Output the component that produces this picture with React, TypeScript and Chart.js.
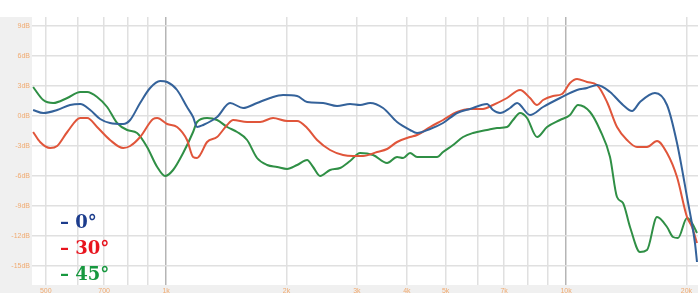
import React, { useEffect, useRef } from "react";
import { Chart, registerables } from "chart.js";

Chart.register(...registerables);

// Frequencies (Hz) and levels (dB)
const freq0 = [465, 493, 534, 575, 610, 646, 684, 724, 781, 813, 861, 912, 966, 1006, 1065, 1128, 1168, 1195, 1237, 1341, 1445, 1558, 1688, 1820, 1961, 2126, 2252, 2469, 2676, 2884, 3055, 3236, 3487, 3780, 4074, 4241, 4571, 4926, 5340, 5754, 6345, 6568, 6839, 7244, 7542, 8128, 8760, 9661, 10654, 11285, 11954, 12882, 13883, 14622, 15311, 16691, 17886, 18945, 20068, 21010, 21257];
const db0 = [0.6, 0.3, 0.6, 1.1, 1.2, 0.6, -0.3, -0.7, -0.8, -0.4, 1.3, 2.8, 3.5, 3.4, 2.6, 0.9, -0.1, -1.1, -0.9, -0.1, 1.3, 0.8, 1.3, 1.8, 2.1, 2.0, 1.4, 1.3, 1.0, 1.2, 1.1, 1.3, 0.8, -0.6, -1.4, -1.7, -1.3, -0.7, 0.3, 0.7, 1.2, 0.6, 0.3, 0.8, 1.3, 0.1, 0.9, 1.8, 2.6, 2.8, 3.1, 2.4, 1.1, 0.5, 1.4, 2.3, 1.1, -2.7, -8.1, -12.7, -14.6];

const freq30 = [465, 484, 513, 534, 566, 610, 635, 672, 724, 781, 813, 861, 928, 950, 1006, 1065, 1128, 1168, 1195, 1216, 1266, 1341, 1421, 1471, 1594, 1718, 1851, 2007, 2126, 2252, 2385, 2570, 2770, 2934, 3108, 3369, 3569, 3780, 4074, 4241, 4571, 4926, 5340, 5754, 6200, 6568, 7120, 7674, 8128, 8462, 8760, 9279, 9772, 10233, 10654, 11285, 11954, 12662, 13411, 14207, 15048, 15940, 16885, 17886, 18945, 20068, 20654, 21257];
const db30 = [-1.6, -2.6, -3.2, -3.0, -1.6, -0.2, -0.2, -1.1, -2.4, -3.2, -3.0, -2.1, -0.3, -0.2, -0.8, -1.1, -2.4, -4.1, -4.2, -3.9, -2.6, -2.1, -0.9, -0.4, -0.6, -0.6, -0.2, -0.5, -0.5, -1.2, -2.4, -3.4, -3.9, -4.0, -4.0, -3.6, -3.3, -2.6, -2.1, -1.9, -1.1, -0.4, 0.4, 0.7, 0.7, 1.1, 1.8, 2.6, 1.8, 1.1, 1.6, 2.0, 2.2, 3.3, 3.7, 3.4, 3.1, 1.4, -1.1, -2.4, -3.1, -3.1, -2.5, -3.7, -6.1, -10.1, -11.1, -12.7];

const freq45 = [465, 493, 522, 566, 610, 635, 672, 712, 754, 799, 846, 896, 950, 994, 1041, 1103, 1168, 1195, 1266, 1341, 1421, 1505, 1594, 1688, 1789, 1895, 2007, 2126, 2252, 2331, 2427, 2570, 2723, 2884, 3055, 3292, 3569, 3780, 3913, 4074, 4241, 4759, 4926, 5218, 5527, 5855, 6345, 6722, 7120, 7371, 7674, 7989, 8462, 8964, 9661, 10233, 10715, 11482, 12162, 12882, 13411, 13883, 14454, 15311, 15940, 16885, 17886, 18513, 19055, 20068, 20654, 21257];
const db45 = [2.9, 1.6, 1.3, 1.8, 2.4, 2.4, 1.9, 0.9, -0.7, -1.4, -1.7, -3.1, -5.1, -6.0, -5.4, -3.7, -1.6, -0.6, -0.2, -0.4, -1.1, -1.6, -2.4, -4.2, -4.9, -5.1, -5.3, -4.9, -4.4, -5.1, -6.0, -5.4, -5.2, -4.5, -3.7, -3.9, -4.7, -4.1, -4.2, -3.7, -4.1, -4.1, -3.6, -2.9, -2.1, -1.7, -1.4, -1.2, -1.1, -0.4, 0.3, -0.2, -2.1, -1.1, -0.4, 0.1, 1.1, 0.4, -1.4, -4.1, -8.1, -8.7, -11.1, -13.6, -13.4, -10.1, -11.1, -12.1, -12.2, -10.2, -10.7, -11.7];

const gridFreqs = [500, 600, 700, 800, 900, 1000, 2000, 3000, 4000, 5000, 6000, 7000, 8000, 9000, 10000, 20000];
const freqLabels: Record<number, string> = { 500: "500", 700: "700", 1000: "1k", 2000: "2k", 3000: "3k", 4000: "4k", 5000: "5k", 7000: "7k", 10000: "10k", 20000: "20k" };
const dbTicks = [-15, -12, -9, -6, -3, 0, 3, 6, 9];

const seriesNames = ["0°", "30°", "45°"];
const lineColors = ["#34629a", "#e0553a", "#2f8f45"];
const legendColors = ["#1c3c8c", "#e8141e", "#17983f"];

const pts = (f: number[], d: number[]) => f.map((x, i) => ({ x, y: d[i] }));

export default function App() {
  const ref = useRef<HTMLCanvasElement>(null);
  useEffect(() => {
    const canvas = ref.current!;
    const bgPlugin = {
      id: "bg",
      beforeDraw(chart: any) {
        const { ctx, chartArea, width, height } = chart;
        ctx.save();
        ctx.fillStyle = "#ffffff";
        ctx.fillRect(0, 0, width, height);
        ctx.fillStyle = "#f0f0f0";
        ctx.fillRect(0, chartArea.top, chartArea.left, height - chartArea.top);
        ctx.fillRect(0, chartArea.bottom, width, height - chartArea.bottom);
        ctx.restore();
      },
    };
    const legendPlugin = {
      id: "legendText",
      afterDraw(chart: any) {
        const ctx = chart.ctx;
        ctx.save();
        ctx.font = "bold 18px 'DejaVu Serif'";
        ctx.textBaseline = "alphabetic";
        ctx.textAlign = "left";
        seriesNames.forEach((n, i) => {
          ctx.fillStyle = legendColors[i];
          ctx.fillText("– " + n, 60, 228 + i * 26);
        });
        ctx.restore();
      },
    };
    const datasets = [
      [freq0, db0],
      [freq30, db30],
      [freq45, db45],
    ].map(([f, d], i) => ({
      label: seriesNames[i],
      data: pts(f, d),
      borderColor: lineColors[i],
      backgroundColor: lineColors[i],
      borderWidth: 2,
      pointRadius: 0,
      tension: 0.4,
      cubicInterpolationMode: "monotone" as const,
    }));
    const chart = new Chart(canvas, {
      type: "line",
      data: { datasets },
      plugins: [bgPlugin, legendPlugin],
      options: {
        animation: false,
        responsive: false,
        layout: { padding: { top: 17, left: 0, right: 0, bottom: 0 } },
        plugins: { legend: { display: false }, tooltip: { enabled: false } },
        scales: {
          x: {
            type: "logarithmic",
            min: 462,
            max: 21380,
            afterBuildTicks: (s: any) => {
              s.ticks = gridFreqs.map((v) => ({ value: v }));
            },
            afterFit: (s: any) => {
              s.height = 8;
              s.paddingLeft = 0;
              s.paddingRight = 0;
            },
            border: { display: false },
            grid: {
              drawTicks: false,
              lineWidth: 1.5,
              color: (c: any) =>
                c.tick && (c.tick.value === 1000 || c.tick.value === 10000) ? "#b5b5b5" : "#e0e0e0",
            },
            ticks: {
              autoSkip: false,
              maxRotation: 0,
              padding: 2,
              color: "#f0aa70",
              font: { size: 7, family: "'Liberation Sans'" },
              callback: (v: any) => freqLabels[Number(v)] ?? "",
            },
          },
          y: {
            type: "linear",
            min: -16.9,
            max: 9.9,
            afterBuildTicks: (s: any) => {
              s.ticks = dbTicks.map((v) => ({ value: v }));
            },
            afterFit: (s: any) => {
              s.width = 32;
              s.paddingTop = 0;
              s.paddingBottom = 0;
            },
            border: { display: false },
            grid: { drawTicks: false, lineWidth: 1.5, color: "#e0e0e0" },
            ticks: {
              padding: 2,
              color: "#f0aa70",
              font: { size: 7, family: "'Liberation Sans'" },
              callback: (v: any) => `${v}dB`,
            },
          },
        },
      },
    });
    return () => chart.destroy();
  }, []);
  return (
    <div style={{ position: "absolute", left: 0, top: 0, width: 698, height: 293 }}>
      <canvas ref={ref} width={698} height={293} style={{ display: "block" }} />
    </div>
  );
}
